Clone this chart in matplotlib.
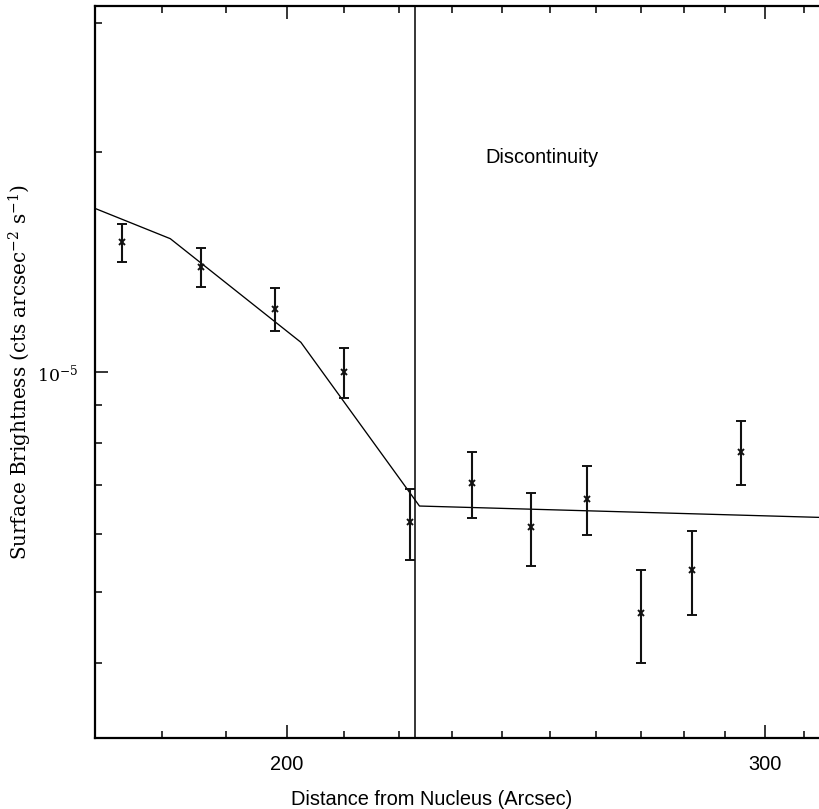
import numpy as np
import matplotlib
matplotlib.use('Agg')
import matplotlib.pyplot as plt
from matplotlib.ticker import FixedLocator, FixedFormatter, NullFormatter

plt.rcParams['mathtext.fontset'] = 'dejavuserif'

# Surface brightness profile (radius in arcsec)
radius = [174, 186, 198, 210, 222, 234, 246, 258, 270, 282, 294]
sb = [1.503e-5, 1.393e-5, 1.220e-5, 1.001e-5, 6.23e-6, 7.05e-6, 6.14e-6,
      6.71e-6, 4.68e-6, 5.36e-6, 7.78e-6]
sb_lo = [1.415e-5, 1.305e-5, 1.138e-5, 0.922e-5, 5.53e-6, 6.32e-6, 5.44e-6,
         5.99e-6, 4.00e-6, 4.66e-6, 7.00e-6]
sb_hi = [1.591e-5, 1.479e-5, 1.302e-5, 1.079e-5, 6.93e-6, 7.77e-6, 6.83e-6,
         7.43e-6, 5.36e-6, 6.07e-6, 8.58e-6]

# model curve
model_r = [170, 181.2, 202.4, 223.8, 314]
model_sb = [1.673e-5, 1.521e-5, 1.098e-5, 6.56e-6, 6.33e-6]

disc_r = 223.0

sb = np.array(sb)
yerr = [sb - np.array(sb_lo), np.array(sb_hi) - sb]

fig = plt.figure(figsize=(8.19, 8.09), dpi=100)
ax = fig.add_axes([95 / 819, 71 / 809, 746.4 / 819, 732 / 809])

ax.set_xscale('log')
ax.set_yscale('log')
ax.set_xlim(170, 320)
ax.set_ylim(10 ** -5.5, 10 ** -4.5)

ax.plot(model_r, model_sb, color='black', lw=0.95)
ax.axvline(disc_r, color='black', lw=1.1)
ax.errorbar(radius, sb, yerr=yerr, fmt='x', color='#111111', ms=4, mew=1.4,
            elinewidth=1.5, capsize=3.5, capthick=1.5)

ax.text(248.3, 1.93e-5, 'Discontinuity', fontsize=14.4,
        family='Liberation Sans', ha='center', va='baseline')

# x ticks
ax.xaxis.set_major_locator(FixedLocator([200, 300]))
ax.xaxis.set_major_formatter(FixedFormatter(['200', '300']))
ax.xaxis.set_minor_locator(FixedLocator([r for r in range(170, 320, 10) if r not in (200, 300)]))
ax.xaxis.set_minor_formatter(NullFormatter())
# y ticks
ax.yaxis.set_major_locator(FixedLocator([1e-5]))
ax.yaxis.set_major_formatter(FixedFormatter([r'$10^{-5}$']))
ax.yaxis.set_minor_locator(FixedLocator([4e-6, 5e-6, 6e-6, 7e-6, 8e-6, 9e-6, 2e-5, 3e-5]))
ax.yaxis.set_minor_formatter(NullFormatter())

ax.tick_params(which='both', direction='in', top=True, right=True, width=1.1)
ax.tick_params(which='major', length=9.5)
ax.tick_params(which='minor', length=5)
ax.tick_params(axis='x', which='major', pad=12, labelsize=14.4)
ax.tick_params(axis='y', which='major', pad=12, labelsize=12.5)
for lab in ax.get_xticklabels():
    lab.set_family('Liberation Sans')

for s in ax.spines.values():
    s.set_linewidth(1.6)

ax.set_xlabel('Distance from Nucleus (Arcsec)', fontsize=14.4, family='Liberation Sans')
ax.xaxis.set_label_coords((432 - 95) / 746.4, -52 / 732)
ax.set_ylabel(r'Surface Brightness (cts arcsec$^{-2}$ s$^{-1}$)', fontsize=14.3,
              family='DejaVu Serif')
ax.yaxis.set_label_coords(-61 / 746.4, 0.5)

fig.savefig('out.png', dpi=100)
